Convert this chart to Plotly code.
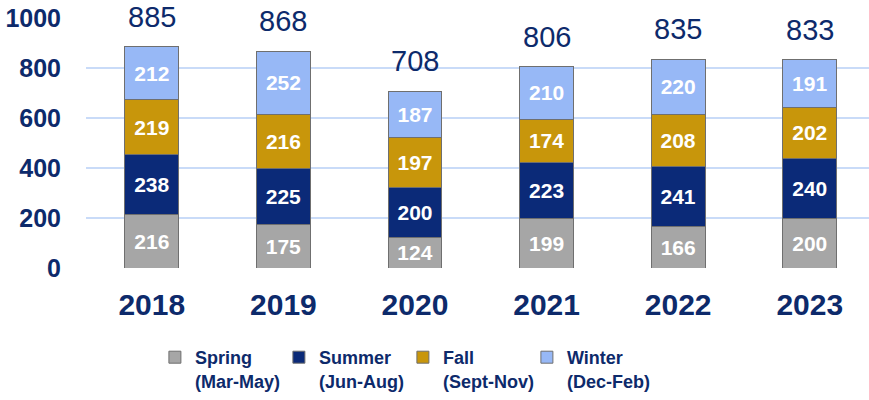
import plotly.graph_objects as go

years = ["2018", "2019", "2020", "2021", "2022", "2023"]
spring = [216, 175, 124, 199, 166, 200]
summer = [238, 225, 200, 223, 241, 240]
fall = [219, 216, 197, 174, 208, 202]
winter = [212, 252, 187, 210, 220, 191]
totals = [885, 868, 708, 806, 835, 833]

series = [
    ("Spring<br>(Mar-May)", spring, "#a6a6a6"),
    ("Summer<br>(Jun-Aug)", summer, "#0b2a78"),
    ("Fall<br>(Sept-Nov)", fall, "#c8960b"),
    ("Winter<br>(Dec-Feb)", winter, "#97b8f6"),
]

NAVY = "#0d2a6b"
FONT = "Arial, Liberation Sans, sans-serif"

fig = go.Figure()
for name, vals, col in series:
    fig.add_trace(go.Bar(
        x=years, y=vals, name=name,
        marker=dict(color=col, line=dict(color="#6f6f6f", width=1)),
        text=[str(v) for v in vals], textposition="inside",
        insidetextanchor="middle", textangle=0,
        textfont=dict(color="white", size=21, family=FONT, weight="bold"),
        cliponaxis=False,
    ))

for i, t in enumerate(totals):
    fig.add_annotation(x=i, y=t, xref="x", yref="y", text=str(t),
                       showarrow=False, yanchor="bottom", yshift=12,
                       font=dict(size=29, color=NAVY, family=FONT))

fig.update_layout(
    barmode="stack", bargap=0.59,
    width=869, height=400,
    margin=dict(l=86, r=0, t=18, b=132, autoexpand=False),
    plot_bgcolor="white", paper_bgcolor="white",
    font=dict(family=FONT, color=NAVY),
    legend=dict(orientation="h", x=0.088, xref="paper", y=-0.284, yanchor="top",
                xanchor="left", valign="top",
                font=dict(size=18, color=NAVY, family=FONT, weight="bold"),
                entrywidth=79, entrywidthmode="pixels",
                traceorder="normal", itemclick=False),
    xaxis=dict(type="category", range=[-0.5, 5.45], showgrid=False,
               showline=False, ticks="",
               automargin=False, ticklabelstandoff=16,
               tickfont=dict(size=30, color=NAVY, family=FONT, weight="bold")),
    yaxis=dict(range=[0, 1000], tickvals=[0, 200, 400, 600, 800, 1000],
               showgrid=True, gridcolor="#c9dbf8", gridwidth=2,
               zeroline=False, showline=False, ticks="", ticklabelstandoff=24,
               automargin=False,
               tickfont=dict(size=25, color=NAVY, family=FONT, weight="bold")),
)

fig.write_html("out.html", config={"displayModeBar": False},
               post_script="document.body.style.margin='0';")
